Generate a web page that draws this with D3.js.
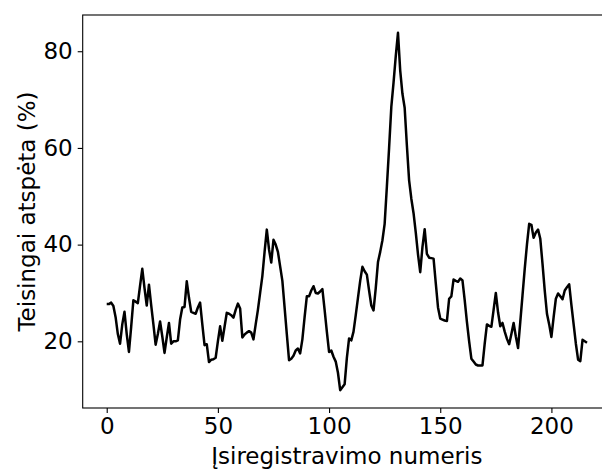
<!DOCTYPE html>
<html>
<head>
<meta charset="utf-8">
<script src="https://cdn.jsdelivr.net/npm/d3@7"></script>
<style>
  html, body { margin: 0; padding: 0; background: #fff; }
  svg text { font-family: 'DejaVu Sans', sans-serif; fill: #000; }
</style>
</head>
<body>
<div id="chart"></div>
<script>
// values, index = registration number 0..216
const values = [
  27.7, 27.7, 28.0, 27.3, 25.0, 21.5, 19.5, 23.5, 26.1, 21.5,
  17.8, 23.0, 28.5, 28.2, 27.9, 31.5, 35.0, 31.0, 27.4, 31.7,
  27.5, 23.5, 19.3, 21.5, 24.1, 21.0, 17.6, 20.8, 23.8, 19.5,
  20.0, 20.0, 20.2, 24.5, 27.0, 27.1, 32.4, 29.0, 26.1, 25.9,
  25.7, 27.0, 28.0, 23.5, 19.2, 19.4, 15.7, 16.2, 16.3, 16.6,
  20.0, 23.1, 20.1, 23.0, 25.9, 25.7, 25.4, 24.9, 26.5, 27.8,
  26.8, 20.8, 21.4, 21.8, 22.1, 21.8, 20.4, 23.5, 26.5, 30.0,
  33.5, 38.5, 43.1, 39.0, 36.3, 41.0, 40.0, 38.5, 35.5, 32.5,
  27.0, 21.5, 16.1, 16.4, 17.0, 18.1, 18.5, 17.5, 20.4, 25.0,
  29.3, 29.3, 30.5, 31.4, 30.0, 29.9, 30.3, 30.8, 26.5, 22.0,
  17.8, 18.1, 16.8, 15.8, 13.5, 9.9, 10.5, 11.1, 16.5, 20.6,
  20.2, 22.0, 25.4, 29.0, 32.5, 35.4, 34.5, 33.8, 30.5, 27.4,
  26.4, 31.0, 36.4, 38.5, 40.9, 44.3, 52.0, 60.0, 68.5, 73.5,
  79.0, 83.8, 76.0, 71.2, 68.3, 60.5, 53.3, 49.5, 46.5, 42.5,
  38.0, 34.3, 39.5, 43.2, 38.1, 37.3, 37.2, 37.1, 32.0, 27.0,
  24.7, 24.5, 24.3, 24.2, 28.8, 29.3, 32.8, 32.5, 32.3, 33.0,
  32.6, 28.5, 24.0, 20.0, 16.4, 15.8, 15.2, 15.0, 15.0, 15.0,
  19.5, 23.5, 23.2, 23.0, 26.5, 30.0, 26.0, 23.1, 23.8, 22.0,
  20.5, 19.4, 21.5, 23.8, 21.0, 18.6, 24.0, 29.5, 35.0, 40.0,
  44.3, 44.1, 41.4, 42.5, 43.1, 41.2, 36.0, 30.5, 25.7, 23.5,
  20.9, 25.0, 28.8, 29.9, 29.3, 28.7, 30.5, 31.2, 31.8, 27.5,
  23.5, 19.5, 16.2, 15.9, 20.3, 20.0, 19.7
];
const xTicks = [0, 50, 100, 150, 200];
const yTicks = [20, 40, 60, 80];
const xLabel = 'Įsiregistravimo numeris';
const yLabel = 'Teisingai atspėta (%)';

(function () {
  const W = 602, H = 470;
  // plot box; right spine sits just outside the picture like in the reference
  const left = 82.7, right = 611, top = 15, bottom = 408;
  const FS = '23px';

  const svg = d3.select('#chart').append('svg').attr('width', W).attr('height', H);

  const n = values.length - 1;
  const padX = n * 0.05;
  const yMin = d3.min(values), yMax = d3.max(values);
  const padY = (yMax - yMin) * 0.05;

  const x = d3.scaleLinear().domain([-padX, n + padX]).range([left, right]);
  const y = d3.scaleLinear().domain([yMin - padY, yMax + padY]).range([bottom, top]);

  const xAxis = svg.append('g').attr('transform', `translate(0,${bottom})`)
    .call(d3.axisBottom(x).tickValues(xTicks).tickSize(5).tickPadding(5).tickFormat(d3.format('d')));
  const yAxis = svg.append('g').attr('transform', `translate(${left},0)`)
    .call(d3.axisLeft(y).tickValues(yTicks).tickSize(5).tickPadding(5).tickFormat(d3.format('d')));
  [xAxis, yAxis].forEach(a => {
    a.select('.domain').remove();
    a.selectAll('.tick line').attr('stroke', '#000').attr('stroke-width', 1.1);
    a.selectAll('.tick text').style('font-size', FS).style('font-family', "'DejaVu Sans', sans-serif");
  });

  // spines
  svg.append('rect').attr('x', left).attr('y', top)
    .attr('width', right - left).attr('height', bottom - top)
    .attr('fill', 'none').attr('stroke', '#000').attr('stroke-width', 1.1);

  const line = d3.line().x((d, i) => x(i)).y(d => y(d));
  svg.append('path').datum(values)
    .attr('fill', 'none').attr('stroke', '#000').attr('stroke-width', 2.5)
    .attr('stroke-linejoin', 'round').attr('d', line);

  svg.append('text').attr('x', (left + right) / 2).attr('y', 464)
    .attr('text-anchor', 'middle').style('font-size', FS).text(xLabel);
  svg.append('text').attr('transform', `translate(35,${(top + bottom) / 2}) rotate(-90)`)
    .attr('text-anchor', 'middle').style('font-size', FS).text(yLabel);
})();
</script>
</body>
</html>
